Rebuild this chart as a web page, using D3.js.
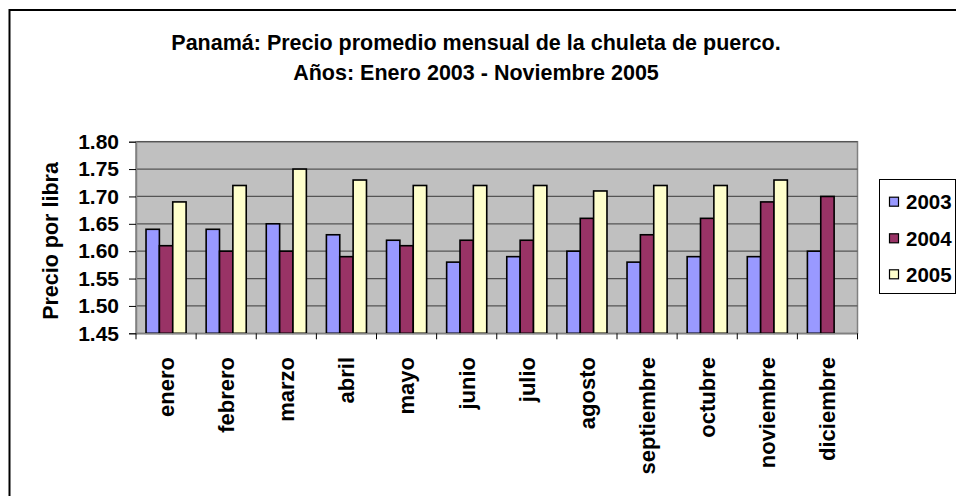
<!DOCTYPE html>
<html>
<head>
<meta charset="utf-8">
<script src="https://cdn.jsdelivr.net/npm/d3@7/dist/d3.min.js"></script>
<style>
  html, body { margin: 0; padding: 0; background: #fff; }
  svg { display: block; font-family: "Liberation Sans", Arial, sans-serif; font-weight: bold; }
</style>
</head>
<body>
<svg id="chart" width="956" height="496"></svg>
<script>
const titleLines = ["Panamá: Precio promedio mensual de la chuleta de puerco.", "Años: Enero 2003 - Noviembre 2005"];
const yAxisTitle = "Precio por libra";
const months = ["enero","febrero","marzo","abril","mayo","junio","julio","agosto","septiembre","octubre","noviembre","diciembre"];
const seriesNames = ["2003","2004","2005"];
const values2003 = [1.64,1.64,1.65,1.63,1.62,1.58,1.59,1.60,1.58,1.59,1.59,1.60];
const values2004 = [1.61,1.60,1.60,1.59,1.61,1.62,1.62,1.66,1.63,1.66,1.69,1.70];
const values2005 = [1.69,1.72,1.75,1.73,1.72,1.72,1.72,1.71,1.72,1.72,1.73,null];
const yTicks = [1.45,1.50,1.55,1.60,1.65,1.70,1.75,1.80];
const colors = ["#9999FF","#993366","#FFFFCC"];

const seriesValues = [values2003, values2004, values2005];
const svg = d3.select("#chart");

// outer frame
svg.append("rect").attr("x", 9.5).attr("y", 10).attr("width", 960).attr("height", 500)
  .attr("fill", "#fff").attr("stroke", "#000").attr("stroke-width", 2);

const plot = {left: 136, right: 857.5, top: 141.7, bottom: 333.3};

const x = d3.scaleBand().domain(months).range([plot.left, plot.right]).paddingInner(0).paddingOuter(0);
const inner = d3.scaleBand().domain(seriesNames).range([0, x.bandwidth()]).paddingInner(0).paddingOuter(0.75);
const y = d3.scaleLinear().domain([1.45, 1.80]).range([plot.bottom, plot.top]);

// plot background
svg.append("rect").attr("x", plot.left).attr("y", plot.top)
  .attr("width", plot.right - plot.left).attr("height", plot.bottom - plot.top)
  .attr("fill", "#C0C0C0").attr("stroke", "#808080").attr("stroke-width", 1.5);

// gridlines
svg.append("g").selectAll("line").data(yTicks.slice(1)).join("line")
  .attr("x1", plot.left).attr("x2", plot.right)
  .attr("y1", d => y(d)).attr("y2", d => y(d))
  .attr("stroke", "#555").attr("stroke-width", 1.3);

// bars
const groups = svg.append("g").selectAll("g").data(seriesNames).join("g")
  .attr("fill", (d, i) => colors[i]);
groups.each(function(name, si) {
  const vals = seriesValues[si];
  d3.select(this).selectAll("rect")
    .data(months.map((m, i) => ({m, v: vals[i]})).filter(d => d.v != null))
    .join("rect")
    .attr("x", d => x(d.m) + inner(name))
    .attr("width", inner.bandwidth())
    .attr("y", d => y(d.v))
    .attr("height", d => y(1.45) - y(d.v))
    .attr("stroke", "#000").attr("stroke-width", 1.6);
});

// y axis
const yAxis = svg.append("g").attr("transform", `translate(${plot.left},0)`)
  .call(d3.axisLeft(y).tickValues(yTicks).tickFormat(d3.format(".2f")).tickSize(7).tickPadding(10));
yAxis.select(".domain").attr("stroke", "#808080").attr("stroke-width", 1.5);
yAxis.selectAll(".tick line").attr("stroke", "#000");
yAxis.selectAll("text").attr("font-size", 21).attr("font-weight", "bold").attr("fill", "#000")
  .attr("font-family", "Liberation Sans, Arial, sans-serif");

// x axis
const xAxis = svg.append("g").attr("transform", `translate(0,${plot.bottom})`)
  .call(d3.axisBottom(x).tickSize(0).tickFormat(""));
xAxis.select(".domain").attr("stroke", "#808080").attr("stroke-width", 1.5);
// tick marks between categories
xAxis.append("g").selectAll("line").data(months.concat(["_end"])).join("line")
  .attr("x1", (d, i) => plot.left + i * x.bandwidth())
  .attr("x2", (d, i) => plot.left + i * x.bandwidth())
  .attr("y1", 0).attr("y2", 6).attr("stroke", "#000");
// rotated labels
svg.append("g").selectAll("text").data(months).join("text")
  .attr("transform", d => `translate(${x(d) + x.bandwidth() / 2},357) rotate(-90)`)
  .attr("text-anchor", "end").attr("dy", "0.36em")
  .attr("font-size", 22).attr("fill", "#000")
  .text(d => d);

// y axis title
svg.append("text").attr("transform", "translate(50,241) rotate(-90)")
  .attr("text-anchor", "middle").attr("dy", "0.36em").attr("font-size", 21.5)
  .text(yAxisTitle);

// title
svg.append("g").selectAll("text").data(titleLines).join("text")
  .attr("x", 476).attr("y", (d, i) => 50 + i * 30)
  .attr("text-anchor", "middle").attr("font-size", 21.5)
  .text(d => d);

// legend
const legend = svg.append("g");
legend.append("rect").attr("x", 879.5).attr("y", 179.5).attr("width", 76).attr("height", 114)
  .attr("fill", "#fff").attr("stroke", "#000").attr("stroke-width", 1);
const rowY = [201.7, 238.3, 274.3];
seriesNames.forEach((name, i) => {
  legend.append("rect").attr("x", 889.5).attr("y", rowY[i] - 4.5).attr("width", 9).attr("height", 9)
    .attr("fill", colors[i]).attr("stroke", "#000").attr("stroke-width", 1.2);
  legend.append("text").attr("x", 906).attr("y", rowY[i]).attr("dy", "0.36em")
    .attr("font-size", 20.5).text(name);
});
</script>
</body>
</html>
